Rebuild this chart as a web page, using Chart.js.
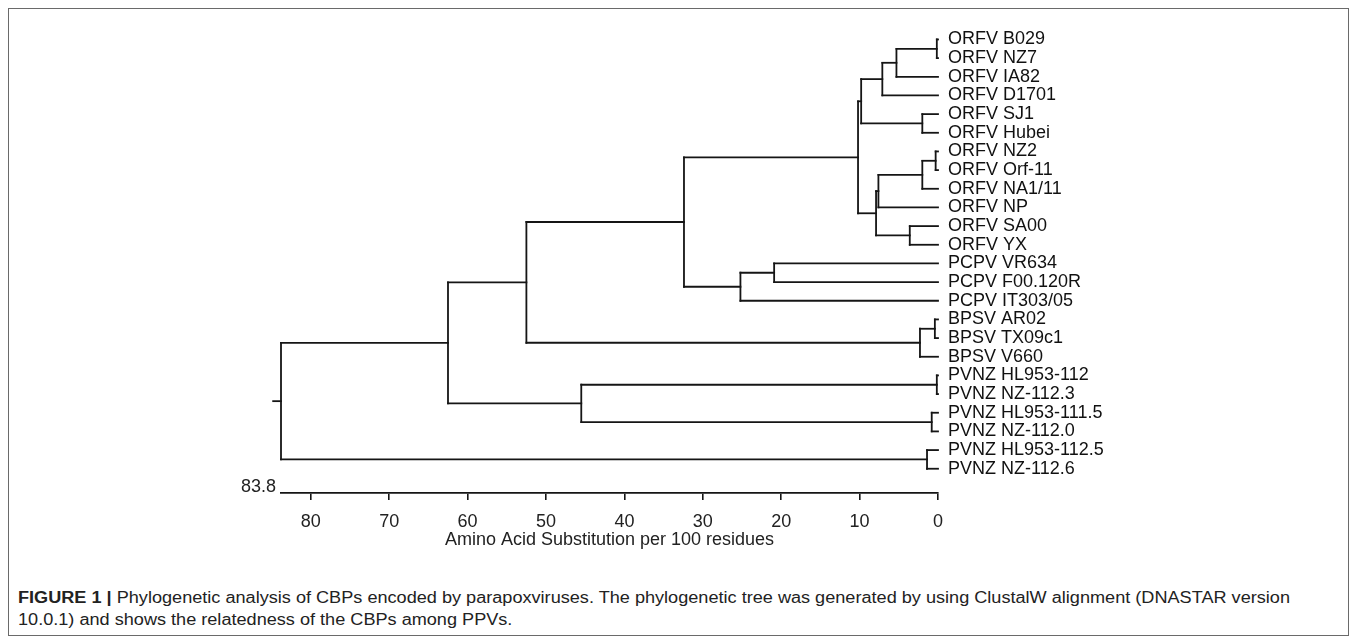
<!DOCTYPE html>
<html>
<head>
<meta charset="utf-8">
<script src="https://cdn.jsdelivr.net/npm/chart.js@4.4.1/dist/chart.umd.min.js"></script>
<style>
  html, body { margin: 0; padding: 0; background: #fff; }
  #wrap { position: relative; width: 1357px; height: 641px; overflow: hidden; background: #fff; }
  #frame { position: absolute; left: 8px; top: 8px; width: 1339px; height: 626px; border: 1.5px solid #6a6a6a; box-sizing: content-box; }
  #chartBox { position: absolute; left: 0; top: 0; width: 1357px; height: 560px; }
  #cap { position: absolute; left: 18px; top: 587px; font-family: "Liberation Sans Narrow", "Liberation Sans", Arial, sans-serif; font-size: 16px; line-height: 22px; color: #222; white-space: nowrap; transform-origin: 0 0; }
  #cap b { font-weight: bold; }
</style>
</head>
<body>
<div id="wrap">
  <div id="frame"></div>
  <div id="chartBox"><canvas id="c" width="1357" height="560"></canvas></div>
  <div id="cap"><span id="l1"><b>FIGURE 1 |</b> Phylogenetic analysis of CBPs encoded by parapoxviruses. The phylogenetic tree was generated by using ClustalW alignment (DNASTAR version</span><br><span id="l2">10.0.1) and shows the relatedness of the CBPs among PPVs.</span></div>
</div>
<script>
// ---- data ----
const leafLabels = [
  'ORFV B029', 'ORFV NZ7', 'ORFV IA82', 'ORFV D1701', 'ORFV SJ1', 'ORFV Hubei',
  'ORFV NZ2', 'ORFV Orf-11', 'ORFV NA1/11', 'ORFV NP', 'ORFV SA00', 'ORFV YX',
  'PCPV VR634', 'PCPV F00.120R', 'PCPV IT303/05',
  'BPSV AR02', 'BPSV TX09c1', 'BPSV V660',
  'PVNZ HL953-112', 'PVNZ NZ-112.3', 'PVNZ HL953-111.5', 'PVNZ NZ-112.0',
  'PVNZ HL953-112.5', 'PVNZ NZ-112.6'
];
// internal nodes: id = leafLabels.length + index
const nodeChildren = [
  [0, 1], [24, 2], [25, 3], [4, 5], [26, 27],
  [6, 7], [29, 8], [30, 9], [10, 11], [31, 32],
  [28, 33], [12, 13], [35, 14], [34, 36],
  [15, 16], [38, 17], [37, 39],
  [18, 19], [20, 21], [41, 42], [40, 43],
  [22, 23], [44, 45]
];
const nodeHeights = [
  0.15, 5.3, 7.1, 2.0, 9.8,
  0.3, 2.0, 7.6, 3.6, 7.9,
  10.2, 20.9, 25.2, 32.4,
  0.4, 2.3, 52.5,
  0.15, 0.8, 45.5, 62.5,
  1.4, 83.8
];
const rootStubStart = 84.8;
const axisMax = 83.8;
const xTickValues = [0, 10, 20, 30, 40, 50, 60, 70, 80];
const axisTitle = 'Amino Acid Substitution per 100 residues';

// ---- build tree segments ----
const nLeaf = leafLabels.length;
const heightOf = id => id < nLeaf ? 0 : nodeHeights[id - nLeaf];
const yCache = {};
function yOf(id) {
  if (id < nLeaf) return id;
  if (yCache[id] !== undefined) return yCache[id];
  const ys = nodeChildren[id - nLeaf].map(yOf);
  const v = (Math.min(...ys) + Math.max(...ys)) / 2;
  yCache[id] = v;
  return v;
}
const segments = [];
nodeChildren.forEach((kids, i) => {
  const id = nLeaf + i;
  const h = nodeHeights[i];
  const ys = kids.map(yOf);
  segments.push([{x: h, y: Math.min(...ys)}, {x: h, y: Math.max(...ys)}]);
  kids.forEach(k => {
    const ch = heightOf(k);
    if (h - ch > 0.01) segments.push([{x: h, y: yOf(k)}, {x: ch, y: yOf(k)}]);
  });
});
const rootId = nLeaf + nodeChildren.length - 1;
segments.push([{x: rootStubStart, y: yOf(rootId)}, {x: nodeHeights[nodeHeights.length - 1], y: yOf(rootId)}]);

const datasets = segments.map(seg => ({
  data: seg,
  showLine: true,
  borderColor: '#151515',
  borderWidth: 1.8,
  borderCapStyle: 'square',
  pointRadius: 0,
  pointHoverRadius: 0,
  clip: false,
  tension: 0
}));

const FONT = "'Liberation Sans', Arial, sans-serif";

const startLabel = {
  id: 'startLabel',
  afterDraw(chart) {
    const {ctx, chartArea} = chart;
    const xs = chart.scales.x;
    ctx.save();
    ctx.font = '18px ' + FONT;
    ctx.fillStyle = '#222';
    ctx.textAlign = 'right';
    ctx.textBaseline = 'middle';
    ctx.fillText(String(axisMax), xs.getPixelForValue(axisMax) - 5, chartArea.bottom - 6);
    ctx.restore();
  }
};

new Chart(document.getElementById('c'), {
  type: 'scatter',
  data: { datasets },
  plugins: [startLabel],
  options: {
    responsive: false,
    animation: false,
    devicePixelRatio: 1,
    layout: { padding: { left: 281, top: 16, right: 0, bottom: 0 } },
    plugins: { legend: { display: false }, tooltip: { enabled: false } },
    events: [],
    scales: {
      x: {
        type: 'linear',
        position: 'bottom',
        reverse: true,
        min: 0,
        max: axisMax,
        afterBuildTicks(scale) { scale.ticks = xTickValues.map(v => ({value: v})); },
        afterFit(scale) { scale.height = 67; },
        ticks: {
          autoSkip: false, maxRotation: 0, padding: 11,
          color: '#222', font: { family: FONT, size: 18 },
          callback: v => String(v)
        },
        grid: { drawOnChartArea: false, drawTicks: true, tickLength: 7, color: '#151515', lineWidth: 1.6 },
        border: { display: true, color: '#151515', width: 1.8 },
        title: { display: true, text: axisTitle, color: '#222', font: { family: FONT, size: 18 }, padding: { top: 0, bottom: 9 } }
      },
      y: {
        type: 'linear',
        position: 'right',
        reverse: true,
        min: -1,
        max: 24.3,
        afterBuildTicks(scale) { scale.ticks = leafLabels.map((_, i) => ({value: i})); },
        afterFit(scale) { scale.width = 1357 - 938; },
        ticks: {
          autoSkip: false, padding: 10, color: '#111',
          font: { family: FONT, size: 18 },
          callback: v => leafLabels[v]
        },
        grid: { display: false, drawTicks: false },
        border: { display: false }
      }
    }
  }
});

// fit caption width
(function () {
  const cap = document.getElementById('cap');
  const w = document.getElementById('l1').getBoundingClientRect().width;
  const target = 1272;
  if (w > 0) cap.style.transform = 'scaleX(' + (target / w).toFixed(4) + ')';
})();
</script>
</body>
</html>
